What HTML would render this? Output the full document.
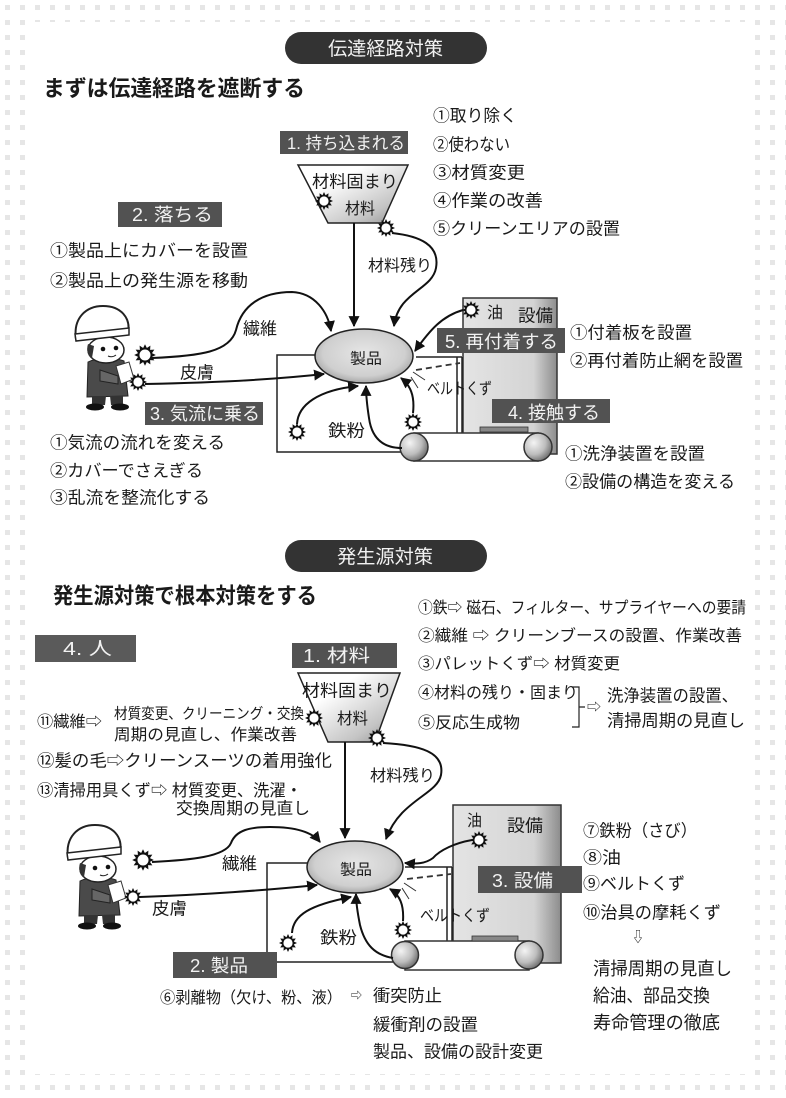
<!DOCTYPE html>
<html><head><meta charset="utf-8"><style>
html,body{margin:0;padding:0;background:#fff;}
svg{display:block;}
text{fill:#1a1a1a;}
.w{fill:#f2f2f2;}
</style></head><body>
<svg width="786" height="1098" viewBox="0 0 786 1098" xmlns="http://www.w3.org/2000/svg" xmlns:xlink="http://www.w3.org/1999/xlink" font-family="'Liberation Sans','Noto Sans CJK JP',sans-serif">
<defs>
<pattern id="dots" width="15" height="15" patternUnits="userSpaceOnUse"><rect x="5" y="5" width="5" height="5" fill="#e6e6e6"/></pattern>
<marker id="ah" viewBox="0 0 10 10" refX="9" refY="5" markerWidth="11" markerHeight="11" markerUnits="userSpaceOnUse" orient="auto"><path d="M0,0 L10,5 L0,10 z" fill="#111"/></marker>
<linearGradient id="fun" x1="0" y1="0" x2="1" y2="1"><stop offset="0.3" stop-color="#ffffff"/><stop offset="0.75" stop-color="#c4c4c4"/><stop offset="1" stop-color="#8a8a8a"/></linearGradient>
<radialGradient id="ell" cx="0.5" cy="0.45" r="0.6"><stop offset="0" stop-color="#e6e6e6"/><stop offset="0.7" stop-color="#cfcfcf"/><stop offset="1" stop-color="#9a9a9a"/></radialGradient>
<linearGradient id="eq" x1="0" y1="0" x2="1" y2="0"><stop offset="0" stop-color="#e4e4e4"/><stop offset="0.75" stop-color="#d4d4d4"/><stop offset="1" stop-color="#8c8c8c"/></linearGradient>
<radialGradient id="rol" cx="0.35" cy="0.35" r="0.7"><stop offset="0" stop-color="#f4f4f4"/><stop offset="0.6" stop-color="#bdbdbd"/><stop offset="1" stop-color="#6e6e6e"/></radialGradient>
<g id="sun">
<polygon points="9,0 5.8,1.55 7.79,4.5 4.24,4.24 4.5,7.79 1.55,5.8 0,9 -1.55,5.8 -4.5,7.79 -4.24,4.24 -7.79,4.5 -5.8,1.55 -9,0 -5.8,-1.55 -7.79,-4.5 -4.24,-4.24 -4.5,-7.79 -1.55,-5.8 0,-9 1.55,-5.8 4.5,-7.79 4.24,-4.24 7.79,-4.5 5.8,-1.55" fill="#111"/>
<circle r="4.6" fill="#fff"/>
</g>
<g id="person">
 <path d="M88,362 C95,358 115,357 124,361 L128,396 L87,397 Z" fill="#4a4a4a" stroke="#222"/>
 <path d="M92,396 L106,396 L105,405 L92,405 Z" fill="#333"/>
 <path d="M110,396 L123,396 L123,405 L111,405 Z" fill="#333"/>
 <ellipse cx="95" cy="407" rx="9" ry="3.5" fill="#111"/>
 <ellipse cx="120" cy="407" rx="9" ry="3.5" fill="#111"/>
 <path d="M100,370 L118,376 L118,384 L100,381 Z" fill="#666" stroke="#222"/>
 <path d="M116,366 L129,362 L134,379 L121,384 Z" fill="#fff" stroke="#333"/>
 <ellipse cx="106" cy="350" rx="18" ry="13" fill="#fff" stroke="#222" stroke-width="1.5"/>
 <path d="M88,344 C86,350 88,356 92,358 L94,346 Z" fill="#333"/>
 <circle cx="103" cy="349" r="2.3" fill="#111"/>
 <circle cx="116" cy="348" r="2.3" fill="#111"/>
 <path d="M108,356 Q112,358 116,355" stroke="#222" fill="none"/>
 <path d="M76,339 C73,318 86,306 103,306 C121,306 131,318 128,333 Z" fill="#fff" stroke="#222" stroke-width="2"/>
 <path d="M75,334 L129,328 L129,335 L76,341 Z" fill="#fff" stroke="#222" stroke-width="1.5"/>
</g>
</defs>

<rect width="786" height="1098" fill="#fff"/>
<rect x="0" y="0" width="32" height="1098" fill="url(#dots)"/>
<rect x="748" y="0" width="38" height="1098" fill="url(#dots)"/>
<rect x="0" y="0" width="786" height="22" fill="url(#dots)"/>
<rect x="0" y="1074" width="786" height="24" fill="url(#dots)"/>

<!-- ================= TOP SECTION ================= -->
<rect x="285" y="32" width="202" height="32" rx="16" fill="#333"/>
<text x="328" y="55" font-size="19" class="w" textLength="115" lengthAdjust="spacingAndGlyphs">伝達経路対策</text>
<text x="43" y="96" font-size="22" font-weight="bold" textLength="262" lengthAdjust="spacingAndGlyphs">まずは伝達経路を遮断する</text>

<text x="433" y="121.5" font-size="17" textLength="84" lengthAdjust="spacingAndGlyphs">①取り除く</text>
<text x="433" y="150.5" font-size="17" textLength="77" lengthAdjust="spacingAndGlyphs">②使わない</text>
<text x="433" y="178.5" font-size="17" textLength="92" lengthAdjust="spacingAndGlyphs">③材質変更</text>
<text x="433" y="206.5" font-size="17" textLength="110" lengthAdjust="spacingAndGlyphs">④作業の改善</text>
<text x="433" y="234.5" font-size="17" textLength="187" lengthAdjust="spacingAndGlyphs">⑤クリーンエリアの設置</text>

<rect x="118" y="202" width="104" height="25" fill="#525252"/>
<text x="132" y="221" font-size="18" class="w" textLength="81" lengthAdjust="spacingAndGlyphs">2. 落ちる</text>
<text x="50" y="256.5" font-size="17" textLength="198" lengthAdjust="spacingAndGlyphs">①製品上にカバーを設置</text>
<text x="50" y="286.5" font-size="17" textLength="198" lengthAdjust="spacingAndGlyphs">②製品上の発生源を移動</text>

<rect x="280" y="131" width="128" height="23" fill="#525252"/>
<text x="287" y="149" font-size="17" class="w" textLength="118" lengthAdjust="spacingAndGlyphs">1. 持ち込まれる</text>
<path d="M298,165 L408,165 L382,223 L328,223 Z" fill="url(#fun)" stroke="#222" stroke-width="1.5"/>
<text x="312" y="187.5" font-size="17" textLength="86" lengthAdjust="spacingAndGlyphs">材料固まり</text>
<text x="345" y="214" font-size="16" textLength="30" lengthAdjust="spacingAndGlyphs">材料</text>
<use xlink:href="#sun" href="#sun" transform="translate(324,201)"/>
<use xlink:href="#sun" href="#sun" transform="translate(386,228)"/>

<rect x="463" y="298" width="94" height="156" fill="url(#eq)" stroke="#333" stroke-width="1.5"/>
<use xlink:href="#sun" href="#sun" transform="translate(471,310)"/>
<text x="487" y="318" font-size="16" textLength="16" lengthAdjust="spacingAndGlyphs">油</text>
<text x="518" y="321.5" font-size="17" textLength="35" lengthAdjust="spacingAndGlyphs">設備</text>

<path d="M317,355 L277,355 L277,452 L402,452" fill="none" stroke="#222" stroke-width="1.5"/>
<path d="M416,357 L462,357 M457,357 L457,433 M462,357 L462,433" fill="none" stroke="#222" stroke-width="1.5"/>
<path d="M416,370 L460,363" fill="none" stroke="#333" stroke-width="1.8" stroke-dasharray="6,4"/>
<path d="M413,372 L425,380 M411,377 L418,388" fill="none" stroke="#333" stroke-width="1"/>

<rect x="414" y="433" width="124" height="28" fill="#fff" stroke="#333" stroke-width="1.5"/>
<rect x="480" y="427" width="48" height="5" fill="#888" stroke="#333" stroke-width="0.8"/>
<circle cx="414" cy="447" r="14" fill="url(#rol)" stroke="#333" stroke-width="1.5"/>
<circle cx="538" cy="447" r="14" fill="url(#rol)" stroke="#333" stroke-width="1.5"/>
<use xlink:href="#sun" href="#sun" transform="translate(413,422)"/>

<ellipse cx="364" cy="356" rx="49" ry="27" fill="url(#ell)" stroke="#222" stroke-width="1.5"/>
<text x="350" y="363.7" font-size="15" textLength="32" lengthAdjust="spacingAndGlyphs">製品</text>

<g fill="none" stroke="#111" stroke-width="2">
<path d="M354,223 L354,326" marker-end="url(#ah)"/>
<path d="M392,233 C420,236 440,245 436,268 C432,290 398,292 394,326" marker-end="url(#ah)"/>
<path d="M152,358 C200,356 230,352 236,330 C242,305 262,292 292,292 C315,293 328,312 331,331" marker-end="url(#ah)"/>
<path d="M145,384 C200,383 270,380 324,374" marker-end="url(#ah)"/>
<path d="M297,424 C298,405 318,390 358,386" marker-end="url(#ah)"/>
<path d="M402,448 C385,448 372,440 369,418 C367,405 366,395 366,386" marker-end="url(#ah)"/>
<path d="M413,413 C415,395 410,385 401,378" marker-end="url(#ah)"/>
<path d="M463,310 C442,316 430,330 415,351" marker-end="url(#ah)"/>
</g>
<use xlink:href="#sun" href="#sun" transform="translate(297,432)"/>

<text x="368" y="271" font-size="16" textLength="64" lengthAdjust="spacingAndGlyphs">材料残り</text>
<text x="243" y="334.5" font-size="17" textLength="34" lengthAdjust="spacingAndGlyphs">繊維</text>
<text x="180" y="378.5" font-size="17" textLength="34" lengthAdjust="spacingAndGlyphs">皮膚</text>
<text x="328" y="436.5" font-size="17" textLength="37" lengthAdjust="spacingAndGlyphs">鉄粉</text>
<text x="427" y="394" font-size="16" textLength="65" lengthAdjust="spacingAndGlyphs">ベルトくず</text>

<rect x="437" y="328" width="128" height="25" fill="#525252"/>
<text x="445" y="348" font-size="18" class="w" textLength="113" lengthAdjust="spacingAndGlyphs">5. 再付着する</text>
<text x="570" y="338.5" font-size="17" textLength="122" lengthAdjust="spacingAndGlyphs">①付着板を設置</text>
<text x="570" y="366.5" font-size="17" textLength="173" lengthAdjust="spacingAndGlyphs">②再付着防止網を設置</text>
<rect x="492" y="399" width="118" height="24" fill="#525252"/>
<text x="508" y="419" font-size="18" class="w" textLength="92" lengthAdjust="spacingAndGlyphs">4. 接触する</text>
<text x="565" y="459.5" font-size="17" textLength="140" lengthAdjust="spacingAndGlyphs">①洗浄装置を設置</text>
<text x="565" y="487.5" font-size="17" textLength="170" lengthAdjust="spacingAndGlyphs">②設備の構造を変える</text>

<use xlink:href="#person" href="#person"/>
<use xlink:href="#sun" href="#sun" transform="translate(145,355) scale(1.2)"/>
<use xlink:href="#sun" href="#sun" transform="translate(138,382)"/>

<rect x="145" y="402" width="118" height="23" fill="#525252"/>
<text x="150" y="420" font-size="18" class="w" textLength="110" lengthAdjust="spacingAndGlyphs">3. 気流に乗る</text>
<text x="50" y="448.5" font-size="17" textLength="175" lengthAdjust="spacingAndGlyphs">①気流の流れを変える</text>
<text x="50" y="476.5" font-size="17" textLength="153" lengthAdjust="spacingAndGlyphs">②カバーでさえぎる</text>
<text x="50" y="503.5" font-size="17" textLength="160" lengthAdjust="spacingAndGlyphs">③乱流を整流化する</text>

<!-- ================= BOTTOM SECTION ================= -->
<rect x="285" y="540" width="202" height="32" rx="16" fill="#333"/>
<text x="337" y="563" font-size="19" class="w" textLength="96" lengthAdjust="spacingAndGlyphs">発生源対策</text>
<text x="53" y="603.5" font-size="22" font-weight="bold" textLength="264" lengthAdjust="spacingAndGlyphs">発生源対策で根本対策をする</text>

<text x="418" y="613" font-size="16" textLength="328" lengthAdjust="spacingAndGlyphs">①鉄⇨ 磁石、フィルター、サプライヤーへの要請</text>
<text x="418" y="641" font-size="16" textLength="324" lengthAdjust="spacingAndGlyphs">②繊維 ⇨ クリーンブースの設置、作業改善</text>
<text x="418" y="669" font-size="16" textLength="202" lengthAdjust="spacingAndGlyphs">③パレットくず⇨ 材質変更</text>
<text x="418" y="698" font-size="16" textLength="160" lengthAdjust="spacingAndGlyphs">④材料の残り・固まり</text>
<text x="418" y="728" font-size="16" textLength="102" lengthAdjust="spacingAndGlyphs">⑤反応生成物</text>
<path d="M572,687 L579,687 L579,727 L572,727 M579,707 L585,707" fill="none" stroke="#222" stroke-width="1.2"/>
<text x="587" y="712" font-size="14" textLength="14" lengthAdjust="spacingAndGlyphs">⇨</text>
<text x="607" y="701.5" font-size="17" textLength="131" lengthAdjust="spacingAndGlyphs">洗浄装置の設置、</text>
<text x="607" y="726.5" font-size="17" textLength="138" lengthAdjust="spacingAndGlyphs">清掃周期の見直し</text>

<rect x="35" y="635" width="101" height="27" fill="#5a5a5a"/>
<text x="63" y="655" font-size="18" class="w" textLength="49" lengthAdjust="spacingAndGlyphs">4. 人</text>

<text x="37" y="727" font-size="16" textLength="65" lengthAdjust="spacingAndGlyphs">⑪繊維⇨</text>
<text x="114" y="718.7" font-size="15" textLength="190" lengthAdjust="spacingAndGlyphs">材質変更、クリーニング・交換</text>
<text x="114" y="740" font-size="16" textLength="183" lengthAdjust="spacingAndGlyphs">周期の見直し、作業改善</text>
<text x="37" y="766.5" font-size="17" textLength="295" lengthAdjust="spacingAndGlyphs">⑫髪の毛⇨クリーンスーツの着用強化</text>
<text x="37" y="796" font-size="16.5" textLength="265" lengthAdjust="spacingAndGlyphs">⑬清掃用具くず⇨ 材質変更、洗濯・</text>
<text x="176" y="814" font-size="16.5" textLength="134" lengthAdjust="spacingAndGlyphs">交換周期の見直し</text>

<rect x="292" y="643" width="105" height="25" fill="#525252"/>
<text x="303" y="662" font-size="18" class="w" textLength="67" lengthAdjust="spacingAndGlyphs">1. 材料</text>
<path d="M298,673 L400,673 L375,742 L328,742 Z" fill="url(#fun)" stroke="#222" stroke-width="1.5"/>
<text x="302" y="696.5" font-size="17" textLength="90" lengthAdjust="spacingAndGlyphs">材料固まり</text>
<text x="337" y="724" font-size="16" textLength="31" lengthAdjust="spacingAndGlyphs">材料</text>
<use xlink:href="#sun" href="#sun" transform="translate(314,718)"/>
<use xlink:href="#sun" href="#sun" transform="translate(377,738)"/>

<rect x="453" y="805" width="108" height="158" fill="url(#eq)" stroke="#333" stroke-width="1.5"/>
<text x="467" y="826" font-size="16" textLength="15" lengthAdjust="spacingAndGlyphs">油</text>
<text x="507" y="831.5" font-size="17" textLength="36" lengthAdjust="spacingAndGlyphs">設備</text>
<use xlink:href="#sun" href="#sun" transform="translate(479,840)"/>

<path d="M308,863 L267,863 L267,952 M277,962 L393,962" fill="none" stroke="#222" stroke-width="1.5"/>
<path d="M405,867 L452,867 M447,867 L447,942 M452,867 L452,942" fill="none" stroke="#222" stroke-width="1.5"/>
<path d="M407,879 L451,874" fill="none" stroke="#333" stroke-width="1.8" stroke-dasharray="6,4"/>
<path d="M404,883 L416,891 M402,888 L409,899" fill="none" stroke="#333" stroke-width="1"/>

<rect x="405" y="941" width="124" height="29" fill="#fff" stroke="#333" stroke-width="1.5"/>
<rect x="472" y="936" width="46" height="5" fill="#888" stroke="#333" stroke-width="0.8"/>
<circle cx="405" cy="955" r="13.5" fill="url(#rol)" stroke="#333" stroke-width="1.5"/>
<circle cx="529" cy="955" r="14" fill="url(#rol)" stroke="#333" stroke-width="1.5"/>
<use xlink:href="#sun" href="#sun" transform="translate(403,930)"/>

<ellipse cx="355" cy="867" rx="48" ry="26" fill="url(#ell)" stroke="#222" stroke-width="1.5"/>
<text x="340" y="874.7" font-size="15" textLength="32" lengthAdjust="spacingAndGlyphs">製品</text>

<g fill="none" stroke="#111" stroke-width="2">
<path d="M345,742 L345,838" marker-end="url(#ah)"/>
<path d="M383,743 C420,745 445,752 441,775 C437,795 400,800 386,839" marker-end="url(#ah)"/>
<path d="M152,862 C190,860 225,857 231,843 C236,830 250,827 270,827 C295,827 312,832 320,842" marker-end="url(#ah)"/>
<path d="M140,897 C200,895 270,890 317,885" marker-end="url(#ah)"/>
<path d="M292,933 C293,915 310,905 351,897" marker-end="url(#ah)"/>
<path d="M393,958 C375,955 365,945 360,925 C357,910 356,900 356,894" marker-end="url(#ah)"/>
<path d="M403,921 C404,905 400,895 390,889" marker-end="url(#ah)"/>
<path d="M472,840 C455,843 440,850 433,858 C425,864 416,864 405,863" marker-end="url(#ah)"/>
</g>
<use xlink:href="#sun" href="#sun" transform="translate(288,943)"/>

<text x="370" y="781" font-size="16" textLength="65" lengthAdjust="spacingAndGlyphs">材料残り</text>
<text x="222" y="869.5" font-size="17" textLength="35" lengthAdjust="spacingAndGlyphs">繊維</text>
<text x="152" y="914.5" font-size="17" textLength="35" lengthAdjust="spacingAndGlyphs">皮膚</text>
<text x="320" y="943.5" font-size="17" textLength="37" lengthAdjust="spacingAndGlyphs">鉄粉</text>
<text x="420" y="921" font-size="16" textLength="70" lengthAdjust="spacingAndGlyphs">ベルトくず</text>

<rect x="478" y="866" width="104" height="27" fill="#525252"/>
<text x="492" y="887" font-size="18" class="w" textLength="61" lengthAdjust="spacingAndGlyphs">3. 設備</text>

<text x="583" y="836.5" font-size="17" textLength="114" lengthAdjust="spacingAndGlyphs">⑦鉄粉（さび）</text>
<text x="583" y="863.5" font-size="17" textLength="38" lengthAdjust="spacingAndGlyphs">⑧油</text>
<text x="583" y="889.5" font-size="17" textLength="102" lengthAdjust="spacingAndGlyphs">⑨ベルトくず</text>
<text x="583" y="918.5" font-size="17" textLength="138" lengthAdjust="spacingAndGlyphs">⑩治具の摩耗くず</text>
<text x="632" y="942" font-size="14" textLength="12" lengthAdjust="spacingAndGlyphs">⇩</text>
<text x="593" y="975" font-size="18" textLength="139" lengthAdjust="spacingAndGlyphs">清掃周期の見直し</text>
<text x="593" y="1002" font-size="18" textLength="117" lengthAdjust="spacingAndGlyphs">給油、部品交換</text>
<text x="593" y="1029" font-size="18" textLength="127" lengthAdjust="spacingAndGlyphs">寿命管理の徹底</text>

<use xlink:href="#person" href="#person" transform="translate(-8,519)"/>
<use xlink:href="#sun" href="#sun" transform="translate(143,860) scale(1.2)"/>
<use xlink:href="#sun" href="#sun" transform="translate(133,897)"/>

<rect x="173" y="952" width="104" height="26" fill="#525252"/>
<text x="190" y="972" font-size="18" class="w" textLength="58" lengthAdjust="spacingAndGlyphs">2. 製品</text>
<text x="160" y="1003" font-size="16" textLength="182" lengthAdjust="spacingAndGlyphs">⑥剥離物（欠け、粉、液）</text>
<text x="351" y="1000" font-size="13" textLength="11" lengthAdjust="spacingAndGlyphs">⇨</text>
<text x="373" y="1001.5" font-size="17" textLength="69" lengthAdjust="spacingAndGlyphs">衝突防止</text>
<text x="373" y="1030.5" font-size="17" textLength="105" lengthAdjust="spacingAndGlyphs">緩衝剤の設置</text>
<text x="373" y="1057.5" font-size="17" textLength="170" lengthAdjust="spacingAndGlyphs">製品、設備の設計変更</text>
</svg>
</body></html>
